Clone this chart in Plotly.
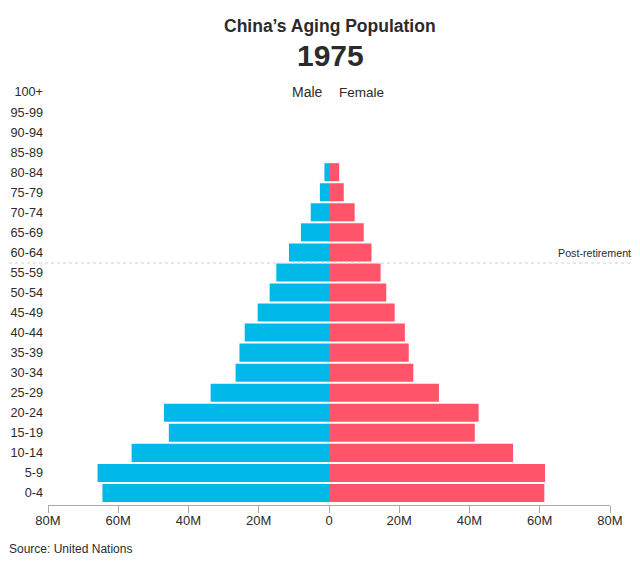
import plotly.graph_objects as go

ages = ['0-4', '5-9', '10-14', '15-19', '20-24', '25-29', '30-34', '35-39', '40-44', '45-49', '50-54',
        '55-59', '60-64', '65-69', '70-74', '75-79', '80-84', '85-89', '90-94', '95-99', '100+']
male = [64.5, 65.9, 56.2, 45.6, 47.0, 33.7, 26.6, 25.5, 24.0, 20.3, 16.9,
        15.0, 11.4, 8.0, 5.2, 2.6, 1.3, 0, 0, 0, 0]
female = [61.3, 61.5, 52.4, 41.5, 42.6, 31.3, 24.0, 22.7, 21.6, 18.7, 16.3,
          14.7, 12.1, 9.9, 7.3, 4.2, 2.9, 0, 0, 0, 0]
tick_vals = [-80, -60, -40, -20, 0, 20, 40, 60, 80]
tick_text = ['80M', '60M', '40M', '20M', '0', '20M', '40M', '60M', '80M']

FONT = 'Liberation Sans'
TEXT = '#2b2b2b'
OFF = 8  # the page body has an 8px margin
W, H = 640 - OFF, 573 - OFF
L, R, T, B = 48 - OFF, 30, 82 - OFF, 68  # plot area margins


def px(x):
    return (x - OFF - L) / (W - L - R)


def py(y):
    return 1 - (y - OFF - T) / (H - T - B)


fig = go.Figure()
fig.add_trace(go.Bar(y=ages, x=[-v for v in male], name='Male', orientation='h',
                     marker=dict(color='#00b9e8', line=dict(width=0))))
fig.add_trace(go.Bar(y=ages, x=female, name='Female', orientation='h',
                     marker=dict(color='#ff5469', line=dict(width=0))))

fig.update_layout(
    width=W, height=H,
    barmode='overlay', bargap=0.1,
    plot_bgcolor='white', paper_bgcolor='white',
    showlegend=False,
    margin=dict(l=L, r=R, t=T, b=B, autoexpand=False),
    font=dict(family=FONT, color=TEXT, size=13),
)
fig.update_xaxes(range=[-80, 80], tickvals=tick_vals, ticktext=tick_text, showgrid=False, zeroline=False,
                 showline=True, linecolor='#aaaaaa', linewidth=1, ticks='outside', ticklen=7,
                 tickcolor='#aaaaaa', ticklabelstandoff=-4, tickfont=dict(size=13, color=TEXT))
fig.update_yaxes(type='category', categoryorder='array', categoryarray=ages, range=[-0.6, 20.5], showgrid=False,
                 zeroline=False, ticks='', ticklabelstandoff=4, tickfont=dict(size=12.7, color=TEXT))

# Linea de jubilacion
fig.add_shape(type='line', xref='paper', yref='y', x0=px(9), x1=px(632), y0=11.47, y1=11.47,
              line=dict(color='#d0d0d0', width=1, dash='dot'))


def label(x, y, text, size, anchor='center', bold=False):
    fig.add_annotation(xref='paper', yref='paper', x=px(x), y=py(y), text=f'<b>{text}</b>' if bold else text,
                       showarrow=False, xanchor=anchor, yanchor='middle',
                       font=dict(family=FONT, size=size, color=TEXT))


label(330, 26, 'China’s Aging Population', 17.5, bold=True)
label(330, 55, '1975', 30, bold=True)
label(325, 92, 'Male', 14, 'right')
label(337, 92, 'Female', 13.5, 'left')
label(633, 253, 'Post-retirement', 10.7, 'right')
label(7, 549, 'Source: United Nations', 12, 'left')

fig.write_html('out.html')
